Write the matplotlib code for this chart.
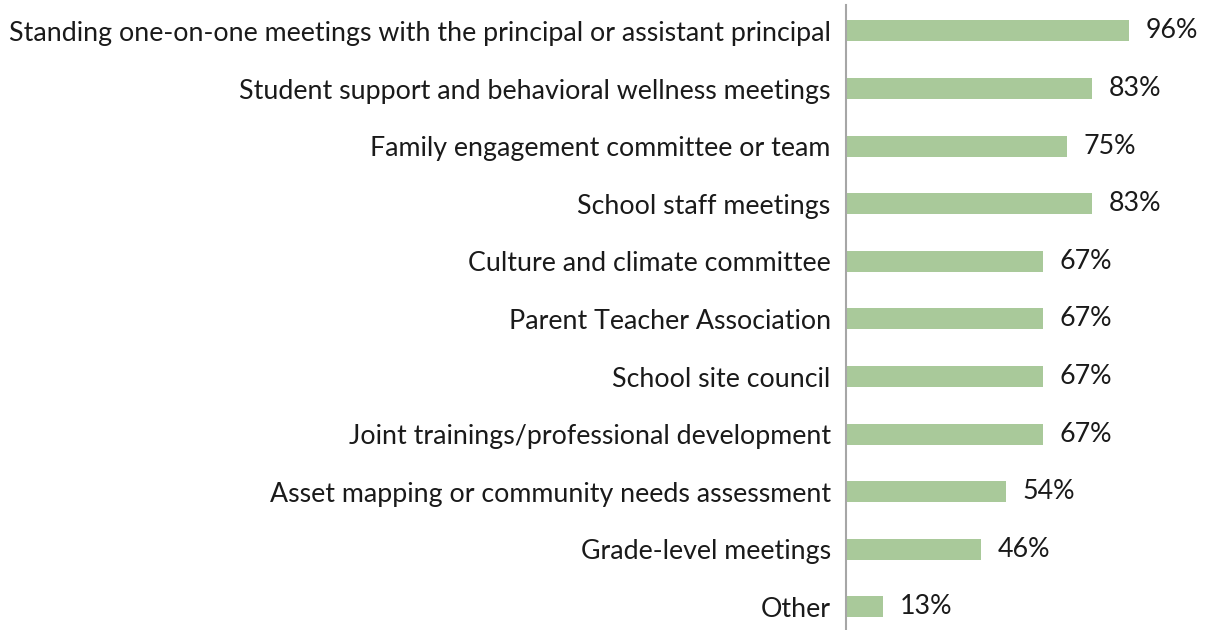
import matplotlib
matplotlib.use("Agg")
import matplotlib.pyplot as plt

categories = [
    "Standing one-on-one meetings with the principal or assistant principal",
    "Student support and behavioral wellness meetings",
    "Family engagement committee or team",
    "School staff meetings",
    "Culture and climate committee",
    "Parent Teacher Association",
    "School site council",
    "Joint trainings/professional development",
    "Asset mapping or community needs assessment",
    "Grade-level meetings",
    "Other",
]
values = [95.8, 83.3, 75.0, 83.3, 66.7, 66.7, 66.7, 66.7, 54.2, 45.8, 12.5]
value_labels = ["96%", "83%", "75%", "83%", "67%", "67%", "67%", "67%", "54%", "46%", "13%"]

plt.rcParams['font.family'] = ['Lato', 'DejaVu Sans']

fig = plt.figure(figsize=(12.08, 6.30), dpi=100)
ax = fig.add_axes([846 / 1208, 0.0, 1 - 846 / 1208, 1 - 5 / 630])

y = list(range(len(categories)))
ax.barh(y, values, height=0.365, color="#A9C99A")
for yi, v, lab in zip(y, values, value_labels):
    ax.text(v + 5.6, yi, lab, va="center", ha="left", fontsize=19.3, color="#1a1a1a")

ax.set_ylim(10.4, -0.45)
ax.set_xlim(0, 122.6)
ax.set_yticks(y)
ax.set_yticklabels(categories, fontsize=19.3, color="#1a1a1a")
ax.tick_params(axis="y", length=0, pad=11)
ax.set_xticks([])
for s in ["top", "right", "bottom"]:
    ax.spines[s].set_visible(False)
ax.spines["left"].set_color("#A6A6A6")
ax.spines["left"].set_linewidth(1.5)

fig.savefig("out.png", dpi=100)
